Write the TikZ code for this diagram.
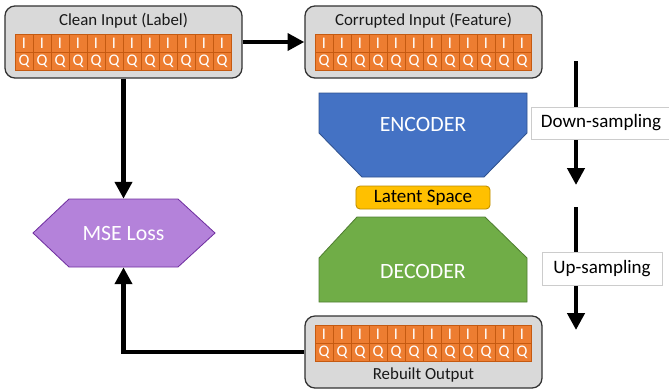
\documentclass[tikz,border=0pt]{standalone}
\usepackage{fontspec}
\setmainfont{Carlito}
\usetikzlibrary{positioning, arrows.meta}

\definecolor{cellorange}{HTML}{ED7D31}
\definecolor{cellline}{HTML}{C55A11}
\definecolor{panelgray}{HTML}{D9D9D9}
\definecolor{encblue}{HTML}{4472C4}
\definecolor{encline}{HTML}{2F528F}
\definecolor{decgreen}{HTML}{70AD47}
\definecolor{decline}{HTML}{507E32}
\definecolor{latentyellow}{HTML}{FFC000}
\definecolor{latentline}{HTML}{BC8C00}
\definecolor{losspurple}{HTML}{B482DA}
\definecolor{lossline}{HTML}{7030A0}

\begin{document}
\begin{tikzpicture}[x=0.025cm, y=-0.025cm,
    panel/.style={draw=black!80, line width=0.9pt, fill=panelgray, rounded corners=0.25cm,
        minimum width=5.925cm, minimum height=1.8cm, inner sep=0pt},
    paneltitle/.style={font=\fontsize{12}{14}\selectfont, text=black!90, inner sep=0pt},
    cell/.style={draw=cellline, line width=0.5pt, fill=cellorange, text=white,
        minimum size=0.45cm, inner sep=0pt, font=\fontsize{11.5}{12}\selectfont},
    bigtext/.style={text=white, font=\fontsize{15.5}{17}\selectfont, inner sep=0pt},
    sampling/.style={draw=black!20, fill=white, line width=0.6pt, inner sep=0pt,
        minimum height=0.8cm, font=\fontsize{13.5}{15}\selectfont},
    flow/.style={line width=3.5pt, -{Triangle[length=0.42cm, width=0.42cm]}}
]
    \useasboundingbox (0,0) rectangle (669,390);

    % the three input/output panels
    \node[panel] (clean) at (123.5,42) {};
    \node[panel] (corrupt) at (423.5,42) {};
    \node[panel] (rebuilt) at (423.5,352) {};
    \node[paneltitle] (cleantitle) at (123.5,21) {Clean Input (Label)};
    \node[paneltitle] (corrupttitle) at (423.5,21) {Corrupted Input (Feature)};
    \node[paneltitle] (rebuilttitle) at (423.5,375) {Rebuilt Output};

    % I/Q cells
    \foreach \gx/\gy in {15/34, 315/34, 315/325}
        \foreach \k in {0,...,11} {
            \node[cell] (i-\gx-\gy-\k) at (\gx+9+18*\k, \gy+9) {I};
            \node[cell] (q-\gx-\gy-\k) at (\gx+9+18*\k, \gy+27) {Q};
        }

    % encoder (top)
    \draw[fill=encblue, draw=encline, line width=0.6pt]
        (319,93) -- (527,93) -- (527,133) -- (484,177) -- (362,177) -- (319,133) -- cycle;
    \node[bigtext] (enc) at (423,124) {ENCODER};

    % latent space
    \node[draw=latentline, fill=latentyellow, rounded corners=0.1cm, line width=0.6pt,
        minimum width=3.35cm, minimum height=0.575cm, inner sep=0pt,
        font=\fontsize{13.5}{15}\selectfont] (latent) at (423,197.5) {Latent Space};

    % decoder (bottom)
    \draw[fill=decgreen, draw=decline, line width=0.6pt]
        (357,217) -- (485,217) -- (527,258) -- (527,302) -- (319,302) -- (319,258) -- cycle;
    \node[bigtext] (dec) at (423,271) {DECODER};

    % MSE loss
    \draw[fill=losspurple, draw=lossline, line width=0.6pt]
        (33,233) -- (69,199) -- (178,199) -- (215,233) -- (178,267) -- (69,267) -- cycle;
    \node[bigtext, minimum width=2.725cm, minimum height=1.7cm] (loss) at (123.5,233) {MSE Loss};

    % data flow
    \draw[flow] (clean.east) -- (corrupt.west);
    \draw[flow] (clean.south) -- (loss.north);
    \draw[flow] (rebuilt.west) -| (loss.south);

    % sampling direction
    \coordinate (downstart) at (576,61);
    \coordinate (downend) at (576,185);
    \coordinate (upstart) at (576,207);
    \coordinate (upend) at (576,330);
    \draw[flow] (downstart) -- (downend);
    \draw[flow] (upstart) -- (upend);
    \node[sampling, minimum width=3.5cm] (down) at (601,123) {Down-sampling};
    \node[sampling, minimum width=3cm, minimum height=0.825cm] (up) at (602,268.5) {Up-sampling};

\end{tikzpicture}
\end{document}
